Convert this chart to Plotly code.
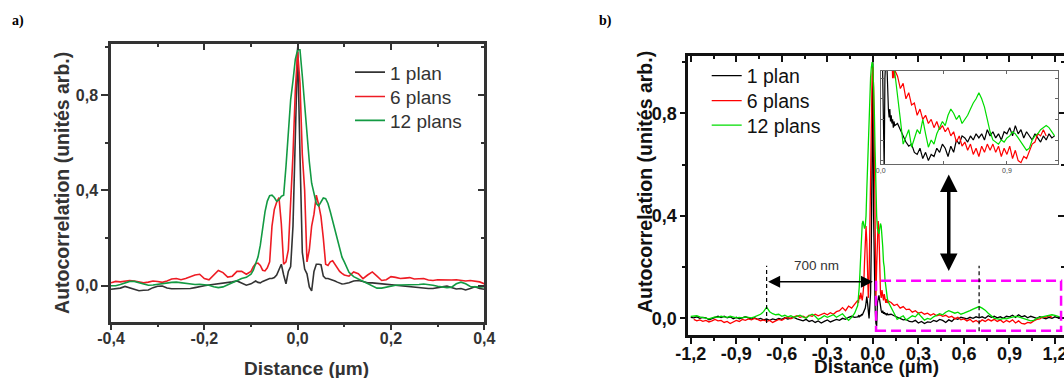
import plotly.graph_objects as go

# ---------------- Panel a) data ----------------
xa_left = [-0.40, -0.39, -0.38, -0.37, -0.36, -0.35, -0.34, -0.33, -0.32, -0.31,
           -0.30, -0.29, -0.28, -0.27, -0.26, -0.25, -0.24, -0.23, -0.22, -0.21,
           -0.20, -0.19, -0.18, -0.17, -0.16, -0.15, -0.14, -0.13, -0.12, -0.11, -0.10]
xa_mid = [-0.095, -0.090, -0.085, -0.080, -0.075, -0.070, -0.065, -0.060, -0.055, -0.050,
          -0.045, -0.040, -0.035, -0.030, -0.025, -0.020, -0.015, -0.010, -0.005, 0.000,
          0.005, 0.010, 0.015, 0.020, 0.025, 0.030, 0.035, 0.040, 0.045, 0.050,
          0.055, 0.060, 0.065, 0.070, 0.075, 0.080, 0.085, 0.090, 0.095]
xa_right = [0.10, 0.11, 0.12, 0.13, 0.14, 0.15, 0.16, 0.17, 0.18, 0.19,
            0.20, 0.21, 0.22, 0.23, 0.24, 0.25, 0.26, 0.27, 0.28, 0.29,
            0.30, 0.31, 0.32, 0.33, 0.34, 0.35, 0.36, 0.37, 0.38, 0.39, 0.40]

a_black_left = [-0.015, -0.013, -0.010, -0.003, -0.008, -0.016, -0.021, -0.019, -0.018, -0.008,
                -0.002, -0.001, -0.010, -0.013, -0.013, -0.013, -0.013, -0.012, -0.008, -0.003,
                0.000, 0.003, 0.005, 0.008, 0.010, 0.012, 0.016, 0.020, 0.012, 0.002, 0.008]
a_black_mid = [0.015, 0.020, 0.014, 0.012, 0.018, 0.022, 0.028, 0.030, 0.030, 0.034,
               0.045, 0.070, 0.090, 0.045, 0.008, 0.060, 0.080, 0.250, 0.600, 1.000,
               0.550, 0.140, 0.070, 0.050, -0.005, -0.022, 0.060, 0.090, 0.090, 0.088,
               0.040, 0.030, 0.030, 0.027, 0.025, 0.020, 0.015, 0.010, 0.007]
a_black_right = [0.008, 0.012, 0.020, 0.022, 0.018, 0.012, 0.012, 0.010, 0.006, 0.004,
                 0.003, 0.002, 0.000, -0.002, -0.005, -0.008, -0.010, -0.012, -0.012, -0.012,
                 -0.010, -0.005, -0.002, -0.008, -0.014, -0.012, -0.018, -0.012, -0.004, -0.012, -0.015]

a_red_left = [0.012, 0.018, 0.016, 0.020, 0.022, 0.020, 0.017, 0.012, 0.015, 0.020,
              0.018, 0.014, 0.020, 0.028, 0.030, 0.025, 0.030, 0.038, 0.045, 0.048,
              0.030, 0.025, 0.045, 0.064, 0.055, 0.036, 0.040, 0.060, 0.060, 0.048, 0.060]
a_red_mid = [0.080, 0.092, 0.095, 0.085, 0.065, 0.062, 0.075, 0.100, 0.250, 0.320,
             0.350, 0.370, 0.260, 0.090, 0.100, 0.150, 0.350, 0.550, 0.820, 0.980,
             0.850, 0.550, 0.400, 0.100, 0.150, 0.250, 0.300, 0.380, 0.340, 0.290,
             0.200, 0.090, 0.085, 0.100, 0.105, 0.090, 0.075, 0.060, 0.052]
a_red_right = [0.045, 0.040, 0.058, 0.050, 0.030, 0.045, 0.058, 0.040, 0.022, 0.025,
               0.038, 0.035, 0.030, 0.032, 0.034, 0.028, 0.028, 0.030, 0.024, 0.022,
               0.025, 0.024, 0.022, 0.024, 0.025, 0.022, 0.020, 0.022, 0.018, 0.016, 0.008]

a_green_left = [0.000, 0.000, 0.005, 0.012, 0.018, 0.018, 0.012, 0.005, 0.002, 0.003,
                0.006, 0.010, 0.012, 0.014, 0.015, 0.012, 0.008, 0.006, 0.005, 0.006,
                0.005, 0.002, -0.004, -0.008, -0.005, 0.004, 0.012, 0.020, 0.030, 0.035, 0.048]
a_green_mid = [0.065, 0.090, 0.120, 0.170, 0.240, 0.310, 0.355, 0.378, 0.380, 0.370,
               0.355, 0.360, 0.375, 0.380, 0.500, 0.640, 0.780, 0.860, 0.950, 0.990,
               0.990, 0.880, 0.760, 0.620, 0.520, 0.430, 0.385, 0.345, 0.335, 0.350,
               0.368, 0.365, 0.345, 0.310, 0.270, 0.230, 0.190, 0.150, 0.120]
a_green_right = [0.100, 0.056, 0.038, 0.028, 0.018, 0.008, -0.002, -0.010, -0.010, -0.005,
                 0.000, 0.002, 0.003, 0.003, 0.002, 0.003, 0.005, 0.007, 0.006, 0.002,
                 -0.002, -0.005, -0.008, -0.006, 0.008, 0.015, 0.008, -0.003, -0.006, -0.006, -0.004]

# ---------------- Panel b) data ----------------
xb_left = [-1.20, -1.18, -1.16, -1.14, -1.12, -1.10, -1.08, -1.06, -1.04, -1.02,
           -1.00, -0.98, -0.96, -0.94, -0.92, -0.90, -0.88, -0.86, -0.84, -0.82,
           -0.80, -0.78, -0.76, -0.74, -0.72, -0.70, -0.68, -0.66, -0.64, -0.62,
           -0.60, -0.58, -0.56, -0.54, -0.52, -0.50, -0.48, -0.46, -0.44, -0.42,
           -0.40, -0.38, -0.36, -0.34, -0.32, -0.30, -0.28, -0.26, -0.24, -0.22,
           -0.20, -0.18, -0.16, -0.14, -0.12]
xb_mid = [-0.100, -0.095, -0.090, -0.085, -0.080, -0.075, -0.070, -0.065, -0.060, -0.055,
          -0.050, -0.045, -0.040, -0.035, -0.030, -0.025, -0.020, -0.015, -0.010, -0.005,
          0.000, 0.005, 0.010, 0.015, 0.020, 0.025, 0.030, 0.035, 0.040, 0.045,
          0.050, 0.055, 0.060, 0.065, 0.070, 0.075, 0.080, 0.085, 0.090, 0.095, 0.100]
xb_right = [0.12, 0.14, 0.16, 0.18, 0.20, 0.22, 0.24, 0.26, 0.28, 0.30,
            0.32, 0.34, 0.36, 0.38, 0.40, 0.42, 0.44, 0.46, 0.48, 0.50,
            0.52, 0.54, 0.56, 0.58, 0.60, 0.62, 0.64, 0.66, 0.68, 0.70,
            0.72, 0.74, 0.76, 0.78, 0.80, 0.82, 0.84, 0.86, 0.88, 0.90,
            0.92, 0.94, 0.96, 0.98, 1.00, 1.02, 1.04, 1.06, 1.08, 1.10,
            1.12, 1.14, 1.16, 1.18, 1.20, 1.22, 1.24]

b_black_left = [0.004, 0.002, 0.006, 0.000, 0.004, 0.002, -0.006, -0.002, 0.004, 0.008,
                0.003, 0.008, 0.002, 0.006, -0.002, 0.004, -0.002, 0.001, 0.006, 0.002,
                -0.003, 0.002, -0.004, 0.000, -0.006, -0.002, -0.008, -0.002, -0.006, 0.000,
                -0.004, 0.002, -0.003, 0.001, 0.004, -0.002, -0.006, -0.010, -0.004, -0.012,
                -0.008, -0.016, -0.010, -0.018, -0.012, -0.006, -0.014, -0.010, -0.004, -0.008,
                0.000, -0.004, 0.004, 0.008, 0.004]
b_black_mid = [0.006, 0.010, 0.004, 0.012, 0.008, 0.016, 0.012, 0.020, 0.025, 0.030,
               0.040, 0.060, 0.085, 0.060, 0.020, 0.000, 0.050, 0.100, 0.300, 0.650,
               1.000, 0.400, 0.100, 0.040, -0.020, -0.030, 0.060, 0.085, 0.090, 0.070,
               0.040, 0.030, 0.022, 0.030, 0.018, 0.024, 0.016, 0.020, 0.012, 0.018, 0.014]
b_black_right = [0.016, 0.010, 0.004, -0.002, -0.006, -0.004, -0.012, -0.014, -0.008, -0.018,
                 -0.012, -0.020, -0.014, -0.016, -0.008, -0.012, -0.004, -0.008, -0.016, -0.006,
                 -0.012, 0.000, -0.004, 0.004, 0.002, -0.002, 0.004, 0.000, 0.006, 0.002,
                 0.006, 0.000, 0.010, 0.004, 0.008, 0.002, 0.006, 0.000, 0.008, 0.006,
                 0.012, 0.004, 0.014, 0.006, 0.010, 0.002, 0.008, 0.004, 0.000, 0.006,
                 0.002, -0.002, 0.004, 0.000, 0.006, 0.002, 0.004]

b_red_left = [None, -0.004, -0.010, -0.006, -0.012, -0.008, -0.014, -0.010, -0.004, -0.010,
              -0.008, -0.016, -0.012, -0.020, -0.014, -0.008, -0.012, -0.004, -0.008, -0.002,
              -0.006, 0.000, -0.004, -0.010, -0.006, -0.012, -0.008, -0.016, -0.010, -0.004,
              -0.008, 0.000, 0.004, -0.002, 0.006, 0.010, 0.004, 0.008, 0.002, 0.012,
              0.008, 0.016, 0.010, 0.014, 0.020, 0.014, 0.022, 0.016, 0.026, 0.030,
              0.042, 0.030, 0.048, 0.040, 0.055]
b_red_mid = [0.070, 0.060, 0.090, 0.075, 0.100, 0.085, 0.070, 0.095, 0.130, 0.220,
             0.330, 0.360, 0.300, 0.150, 0.080, 0.150, 0.350, 0.600, 0.800, 0.950,
             0.980, 0.900, 0.650, 0.300, 0.080, 0.200, 0.320, 0.380, 0.340, 0.200,
             0.100, 0.080, 0.110, 0.090, 0.070, 0.095, 0.080, 0.060, 0.075, 0.060, 0.068]
b_red_right = [0.062, 0.050, 0.055, 0.040, 0.046, 0.034, 0.036, 0.024, 0.030, 0.020,
               0.024, 0.016, 0.020, 0.012, 0.018, 0.010, 0.014, 0.008, 0.012, 0.004,
               0.008, -0.002, 0.004, -0.006, -0.002, -0.010, -0.004, -0.014, -0.008, -0.016,
               -0.006, -0.012, -0.004, -0.010, -0.004, -0.012, -0.006, -0.016, -0.008, -0.014,
               -0.006, -0.018, -0.010, -0.020, -0.022, -0.016, -0.018, -0.010, -0.004, -0.002,
               0.006, 0.004, 0.010, 0.004, None, None, None]

b_green_left = [0.008, 0.010, 0.010, 0.006, 0.004, 0.000, -0.002, 0.002, 0.006, 0.004,
                0.008, 0.006, 0.004, 0.008, 0.006, 0.002, 0.004, 0.002, 0.006, 0.004,
                0.002, 0.006, 0.012, 0.016, 0.026, 0.044, 0.026, 0.018, 0.014, 0.016,
                0.008, 0.012, 0.006, 0.010, 0.004, 0.008, 0.012, 0.006, 0.000, 0.010,
                0.016, 0.008, -0.004, 0.002, 0.010, 0.004, 0.008, 0.014, 0.004, 0.010,
                0.018, 0.004, -0.008, 0.004, 0.020]
b_green_mid = [0.050, 0.080, 0.120, 0.180, 0.250, 0.320, 0.370, 0.380, 0.370, 0.350,
               0.360, 0.400, 0.500, 0.600, 0.700, 0.800, 0.880, 0.940, 0.980, 1.000,
               0.990, 0.920, 0.800, 0.650, 0.500, 0.400, 0.350, 0.340, 0.330, 0.350,
               0.370, 0.360, 0.330, 0.280, 0.220, 0.200, 0.150, 0.120, 0.095, 0.080, 0.066]
b_green_right = [0.040, 0.020, -0.004, 0.004, 0.010, -0.007, 0.002, 0.010, 0.006, 0.020,
                 0.006, -0.007, 0.000, -0.004, 0.006, 0.012, 0.018, 0.014, 0.024, 0.030,
                 0.026, 0.020, 0.024, 0.016, 0.020, 0.024, 0.030, 0.036, 0.040, 0.046,
                 0.040, 0.032, 0.020, 0.008, 0.000, -0.002, -0.004, 0.000, -0.002, 0.002,
                 0.004, 0.008, 0.006, 0.002, -0.002, -0.006, -0.010, -0.008, 0.000, 0.004,
                 0.006, 0.010, 0.012, 0.014, 0.012, 0.008, 0.004]

series_names = ["1 plan", "6 plans", "12 plans"]
colors_a = ["#333333", "#ee1c24", "#139a43"]
colors_b = ["#000000", "#ff0000", "#00dd00"]

# tick arrays
a_xtickvals = [-0.4, -0.2, 0.0, 0.2, 0.4]
a_xticktext = ["-0,4", "-0,2", "0,0", "0,2", "0,4"]
a_xminor = [-0.3, -0.1, 0.1, 0.3]
a_ytickvals = [0.0, 0.4, 0.8]
a_yticktext = ["0,0", "0,4", "0,8"]
a_yminor = [0.2, 0.6, 1.0]
b_xtickvals = [-1.2, -0.9, -0.6, -0.3, 0.0, 0.3, 0.6, 0.9, 1.2]
b_xticktext = ["-1,2", "-0,9", "-0,6", "-0,3", "0,0", "0,3", "0,6", "0,9", "1,2"]
b_xminor = [-1.05, -0.75, -0.45, -0.15, 0.15, 0.45, 0.75, 1.05]
b_ytickvals = [0.0, 0.4, 0.8]
b_yticktext = ["0,0", "0,4", "0,8"]
b_yminor = [0.2, 0.6, 1.0]
in_xtickvals = [0.0, 0.45, 0.9]
in_xticktext = ["0,0", "", "0,9"]
in_ytickvals = [-0.02, 0.0, 0.02, 0.04, 0.06]

# annotation geometry (data units of panel b)
box_x = [0.021, 1.24]
box_y = [-0.048, 0.147]
mark_x = [-0.7, 0.7]
mark_y0 = [-0.018, -0.05]
mark_y1 = 0.205
harrow_y = 0.143
varrow_x = 0.5
varrow_y = [0.185, 0.567]

xa = xa_left + xa_mid + xa_right
xb = xb_left + xb_mid + xb_right
a_series = [a_black_left + a_black_mid + a_black_right,
            a_red_left + a_red_mid + a_red_right,
            a_green_left + a_green_mid + a_green_right]
b_series = [b_black_left + b_black_mid + b_black_right,
            b_red_left + b_red_mid + b_red_right,
            b_green_left + b_green_mid + b_green_right]
for s in a_series:
    assert len(s) == len(xa), (len(s), len(xa))
for s in b_series:
    assert len(s) == len(xb), (len(s), len(xb))

W, H = 1064, 378
SANS = "Liberation Sans, Arial, sans-serif"
SERIF = "Liberation Serif, Times New Roman, serif"

# one legend box per row so the row spacing matches the original
a_legends = ["legend", "legend3", "legend4"]
b_legends = ["legend2", "legend5", "legend6"]
a_rows = [72.3, 96.7, 120.5]
b_rows = [76.0, 101.0, 125.5]

fig = go.Figure()
for name, ys, col, lg in zip(series_names, a_series, colors_a, a_legends):
    fig.add_trace(go.Scatter(x=xa, y=ys, mode="lines", name=name,
                             line=dict(color=col, width=1.6),
                             xaxis="x", yaxis="y", legend=lg))
for name, ys, col, lg in zip(series_names, b_series, colors_b, b_legends):
    fig.add_trace(go.Scatter(x=xb, y=ys, mode="lines", name=name,
                             line=dict(color=col, width=1.3),
                             xaxis="x2", yaxis="y2", legend=lg))
for name, ys, col in zip(series_names, b_series, colors_b):
    fig.add_trace(go.Scatter(x=xb, y=ys, mode="lines", name=name,
                             line=dict(color=col, width=1.2),
                             xaxis="x3", yaxis="y3", showlegend=False))
# carriers for the inside-tick top/right axes
for xa_id, ya_id in [("x4", "y"), ("x", "y4"), ("x5", "y2"), ("x2", "y5")]:
    fig.add_trace(go.Scatter(x=[], y=[], mode="lines", xaxis=xa_id, yaxis=ya_id,
                             showlegend=False, hoverinfo="skip"))


def px_x(p):
    return p / W


def px_y(p):
    return 1 - p / H


a_dom_x = [px_x(111), px_x(484.3)]
a_dom_y = [px_y(321.7), px_y(44.3)]
b_dom_x = [px_x(688.3), px_x(1063.5)]
b_dom_y = [px_y(335), px_y(55.7)]
in_dom_x = [px_x(880.7), px_x(1057.7)]
in_dom_y = [px_y(164), px_y(71)]

a_range_x = [-0.4, 0.4]
a_range_y = [-0.151, 1.013]
b_range_x = [-1.216, 1.256]
b_range_y = [-0.065, 1.025]
in_range_x = [0.0, 1.262]
in_range_y = [-0.0233, 0.067]

ca = "#333333"
cb = "#111111"


def main_axis(dom, rng, tv, tt, minor, col, lw, fs, tl, stand):
    return dict(domain=dom, range=rng, showline=True, linecolor=col, linewidth=lw,
                mirror=True, ticks="outside", ticklen=tl, tickwidth=2, tickcolor=col,
                tickmode="array", tickvals=tv, ticktext=tt, ticklabelstandoff=stand,
                ticklabeloverflow="allow",
                tickfont=dict(family=SANS, size=fs, color=col, weight="bold"),
                showgrid=False, zeroline=False, automargin=False,
                minor=dict(tickmode="array", tickvals=minor, ticks="outside", ticklen=3,
                           tickwidth=2, tickcolor=col, showgrid=False))


def inside_axis(over, anchor, side, rng, tv, minor, col, tl):
    return dict(overlaying=over, anchor=anchor, side=side, range=rng, showline=False,
                ticks="inside", ticklen=tl, tickwidth=2, tickcolor=col,
                tickmode="array", tickvals=tv, showticklabels=False,
                showgrid=False, zeroline=False, automargin=False,
                minor=dict(tickmode="array", tickvals=minor, ticks="inside", ticklen=3,
                           tickwidth=2, tickcolor=col, showgrid=False))


layout = dict(
    width=W, height=H, autosize=False,
    margin=dict(l=0, r=0, t=0, b=0, pad=0, autoexpand=False),
    paper_bgcolor="white", plot_bgcolor="white",
    separators=", ",
    showlegend=True,
    xaxis=dict(anchor="y", **main_axis(a_dom_x, a_range_x, a_xtickvals, a_xticktext, a_xminor, ca, 2.5, 16, 6, -6)),
    yaxis=dict(anchor="x", **main_axis(a_dom_y, a_range_y, a_ytickvals, a_yticktext, a_yminor, ca, 2.5, 16, 7, 0)),
    xaxis4=inside_axis("x", "y", "top", a_range_x, a_xtickvals, a_xminor, ca, 6),
    yaxis4=inside_axis("y", "x", "right", a_range_y, a_ytickvals, a_yminor, ca, 6),
    xaxis2=dict(anchor="y2", **main_axis(b_dom_x, b_range_x, b_xtickvals, b_xticktext, b_xminor, cb, 3, 18, 6, -6)),
    yaxis2=dict(anchor="x2", **main_axis(b_dom_y, b_range_y, b_ytickvals, b_yticktext, b_yminor, cb, 3, 18, 5, 0)),
    xaxis5=inside_axis("x2", "y2", "top", b_range_x, b_xtickvals, b_xminor, cb, 6),
    yaxis5=inside_axis("y2", "x2", "right", b_range_y, b_ytickvals, b_yminor, cb, 6),
    xaxis3=dict(domain=in_dom_x, range=in_range_x, anchor="y3", showline=True, linecolor="#666666",
                linewidth=1, mirror="ticks", ticks="inside", ticklen=3, tickwidth=1, tickcolor="#666666",
                tickmode="array", tickvals=in_xtickvals, ticktext=in_xticktext, automargin=False,
                tickfont=dict(family=SANS, size=7, color="#444444"), showgrid=False, zeroline=False),
    yaxis3=dict(domain=in_dom_y, range=in_range_y, anchor="x3", showline=True, linecolor="#666666",
                linewidth=1, mirror="ticks", ticks="inside", ticklen=3, tickwidth=1, tickcolor="#666666",
                tickmode="array", tickvals=in_ytickvals, showticklabels=False, automargin=False,
                showgrid=False, zeroline=False),
)
for lg, row in zip(a_legends, a_rows):
    layout[lg] = dict(x=px_x(350), y=px_y(row), xanchor="left", yanchor="middle",
                      bgcolor="rgba(0,0,0,0)", borderwidth=0,
                      font=dict(family=SANS, size=19, color=ca))
for lg, row in zip(b_legends, b_rows):
    layout[lg] = dict(x=px_x(706.7), y=px_y(row), xanchor="left", yanchor="middle",
                      bgcolor="rgba(0,0,0,0)", borderwidth=0,
                      font=dict(family=SANS, size=19.5, color=cb))
fig.update_layout(**layout)

shapes = [
    dict(type="rect", xref="x2", yref="y2", x0=box_x[0], x1=box_x[1], y0=box_y[0], y1=box_y[1],
         line=dict(color="#ff00ff", width=2.5, dash="10px,5px"), fillcolor="rgba(0,0,0,0)"),
]
for mx, my0 in zip(mark_x, mark_y0):
    shapes.append(dict(type="line", xref="x2", yref="y2", x0=mx, x1=mx, y0=my0, y1=mark_y1,
                       line=dict(color="black", width=1.2, dash="4px,3px")))
fig.update_layout(shapes=shapes)

ann = []
# double arrows
ann.append(dict(xref="x2", yref="y2", axref="x2", ayref="y2", x=0.0, y=harrow_y,
                ax=mark_x[0], ay=harrow_y, text="", showarrow=True, arrowside="end+start",
                arrowhead=2, startarrowhead=2, arrowsize=1.6, startarrowsize=1.6,
                arrowwidth=1.5, arrowcolor="black", standoff=0, startstandoff=0))
ann.append(dict(xref="x2", yref="y2", axref="x2", ayref="y2", x=varrow_x, y=varrow_y[0],
                ax=varrow_x, ay=varrow_y[1], text="", showarrow=True, arrowside="end+start",
                arrowhead=2, startarrowhead=2, arrowsize=1.0, startarrowsize=1.0,
                arrowwidth=3.5, arrowcolor="black", standoff=0, startstandoff=0))
ann.append(dict(xref="x2", yref="y2", x=-0.37, y=0.205, text="700 nm", showarrow=False,
                font=dict(family=SANS, size=13.5, color="#333333")))
# axis titles
ann.append(dict(xref="paper", yref="paper", x=px_x(62.5), y=px_y(183.4), text="Autocorrelation (unités arb.)",
                textangle=-90, showarrow=False, xanchor="center", yanchor="middle",
                font=dict(family=SANS, size=19.5, color=ca, weight="bold")))
ann.append(dict(xref="paper", yref="paper", x=px_x(644.5), y=px_y(182.5), text="Autocorrelation (unités arb.)",
                textangle=-90, showarrow=False, xanchor="center", yanchor="middle",
                font=dict(family=SANS, size=19.5, color=cb, weight="bold")))
ann.append(dict(xref="paper", yref="paper", x=px_x(306), y=px_y(368), text="Distance (µm)",
                showarrow=False, xanchor="center", yanchor="middle",
                font=dict(family=SANS, size=19, color=ca, weight="bold")))
ann.append(dict(xref="paper", yref="paper", x=px_x(876.7), y=px_y(366), text="Distance (µm)",
                showarrow=False, xanchor="center", yanchor="middle",
                font=dict(family=SANS, size=19, color=cb, weight="bold")))
# panel labels
ann.append(dict(xref="paper", yref="paper", x=px_x(10), y=px_y(21.5), text="a)",
                showarrow=False, xanchor="left", yanchor="middle",
                font=dict(family=SERIF, size=14, color="black", weight="bold")))
ann.append(dict(xref="paper", yref="paper", x=px_x(597), y=px_y(21.5), text="b)",
                showarrow=False, xanchor="left", yanchor="middle",
                font=dict(family=SERIF, size=14, color="black", weight="bold")))
fig.update_layout(annotations=ann)

fig.write_html(
    "out.html",
    config={"displayModeBar": False},
    post_script="document.body.style.margin='0px';document.body.style.overflow='hidden';"
                "document.documentElement.style.overflow='hidden';",
)
